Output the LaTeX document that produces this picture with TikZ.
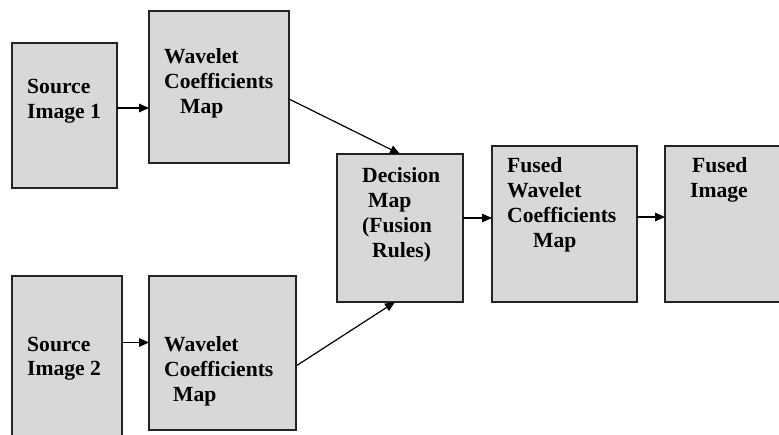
\documentclass[tikz,border=0pt]{standalone}
\usepackage{fontspec}
\setmainfont{Liberation Serif}
\usepackage{tikz}
\usetikzlibrary{positioning,arrows.meta,calc}
\definecolor{boxfill}{RGB}{216,216,216}
\definecolor{boxrule}{RGB}{35,35,35}
\tikzset{
  blockbox/.style={rectangle,draw=boxrule,line width=1.2pt,fill=boxfill,anchor=north west,inner sep=0pt,outer sep=0pt},
  blocktext/.style={anchor=north west,inner sep=0pt,align=left,font=\fontsize{21.6}{24.8}\selectfont\bfseries},
  edge/.style={-{Triangle[length=10pt,width=8.5pt]},line width=1.2pt,draw=black}
}

\begin{document}
\begin{tikzpicture}[x=1pt,y=-1pt]
  \clip (0,0) rectangle (779,435);
  \fill[white] (0,0) rectangle (779,435);
  % boxes
  \node[blockbox,minimum width=105pt,minimum height=145pt] (src1) at (12,43) {};
  \node[blockbox,minimum width=140pt,minimum height=152pt] (wav1) at (149,11) {};
  \node[blockbox,minimum width=110pt,minimum height=175pt] (src2) at (12,276) {};
  \node[blockbox,minimum width=147pt,minimum height=154pt] (wav2) at (149,276) {};
  \node[blockbox,minimum width=126pt,minimum height=148pt] (dec) at (337,154) {};
  \node[blockbox,minimum width=145pt,minimum height=156pt] (fwav) at (492,146) {};
  \node[blockbox,minimum width=130pt,minimum height=156pt] (fimg) at (665,146) {};
  % texts
  \node[blocktext] (src1txt) at (27,79.5) {Source\\Image 1};
  \node[blocktext] (wav1txt) at (164,48.5) {Wavelet\\Coefficients\\\hspace*{16pt}Map};
  \node[blocktext] (src2txt) at (27,336.5) {Source\\Image 2};
  \node[blocktext] (wav2txt) at (164,336.5) {Wavelet\\Coefficients\\\hspace*{9pt}Map};
  \node[blocktext] (dectxt) at (362,167.5) {Decision\\\hspace*{6pt}Map\\(Fusion\\\hspace*{10pt}Rules)};
  \node[blocktext] (fwavtxt) at (507,157.5) {Fused\\Wavelet\\Coefficients\\\hspace*{26pt}Map};
  \node[blocktext] (fimgtxt) at (690,157.5) {\hspace*{2pt}Fused\\Image};
  % connectors
  \draw[edge] ([yshift=7.5pt]src1.east) -- ([yshift=7.5pt]src1.east -| wav1.west);
  \draw[edge] ([yshift=21pt]src2.east) -- ([yshift=21pt]src2.east -| wav2.west);
  \draw[edge] ([yshift=-12pt]wav1.east) -- (dec.north);
  \draw[edge] ([yshift=-13pt]wav2.east) -- ([xshift=-5pt]dec.south);
  \draw[edge] ([yshift=10pt]dec.east) -- ([yshift=10pt]dec.east -| fwav.west);
  \draw[edge] ([yshift=7pt]fwav.east) -- ([yshift=7pt]fwav.east -| fimg.west);
\end{tikzpicture}
\end{document}
